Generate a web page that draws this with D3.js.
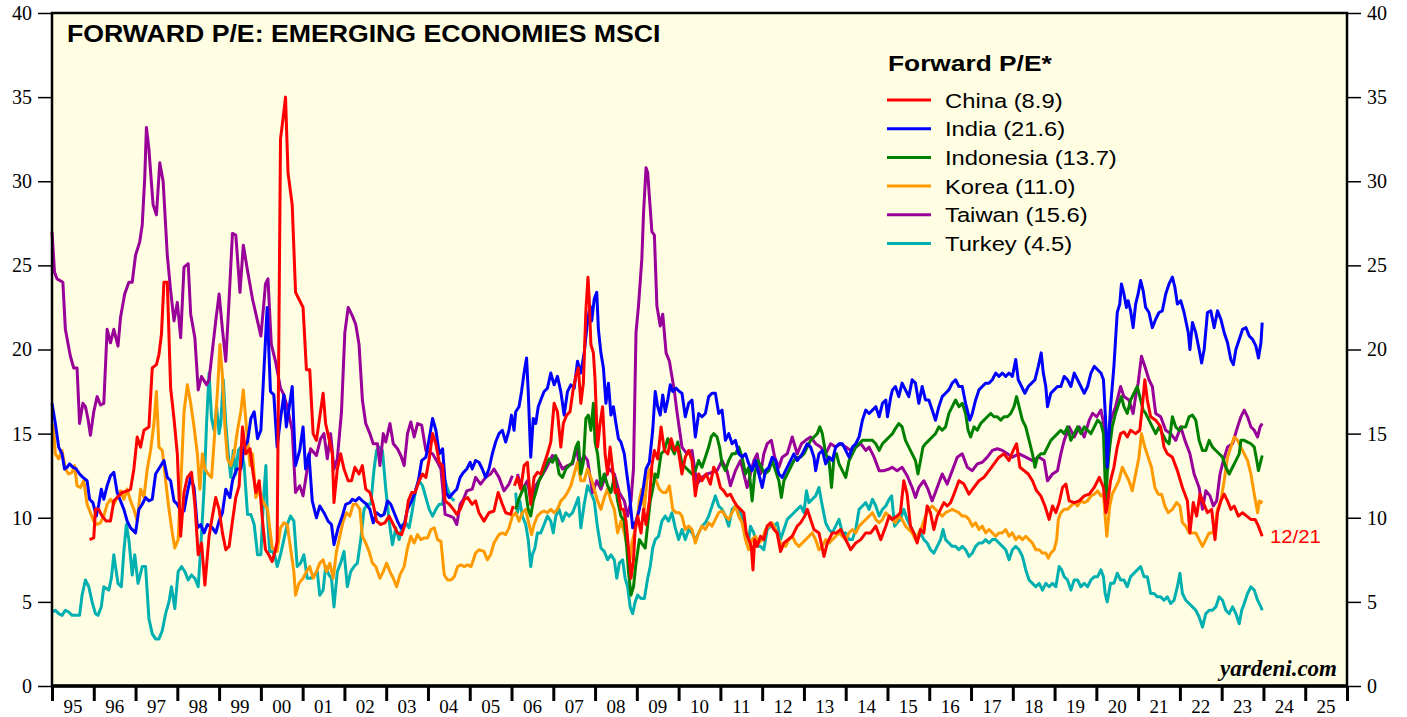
<!DOCTYPE html>
<html><head><meta charset="utf-8">
<script src="https://cdn.jsdelivr.net/npm/d3@7"></script>
<style>
html,body{margin:0;padding:0;background:#fff;}
svg{display:block;}
</style></head>
<body>
<svg id="chart" width="1407" height="717"></svg>
<script>
// ---------------- DATA (decimal year, forward P/E) ----------------
const yearTicks = d3.range(1995, 2027);
const yTicks = [0,5,10,15,20,25,30,35,40];
const seriesNames = ["China (8.9)","India (21.6)","Indonesia (13.7)","Korea (11.0)","Taiwan (15.6)","Turkey (4.5)"];

const china = [[1995.90,8.7],[1996.00,8.8],[1996.04,10.5],[1996.12,10.5],[1996.20,10.1],[1996.30,9.8],[1996.40,9.8],[1996.48,11.0],[1996.56,11.2],[1996.68,11.5],[1996.80,11.6],[1996.88,11.7],[1996.96,12.9],[1997.04,14.8],[1997.12,14.2],[1997.20,15.2],[1997.32,15.4],[1997.40,18.9],[1997.50,19.1],[1997.56,19.7],[1997.62,20.9],[1997.68,24.0],[1997.76,24.0],[1997.84,17.7],[1997.92,15.9],[1998.00,13.8],[1998.08,8.9],[1998.16,11.5],[1998.24,12.4],[1998.34,12.7],[1998.42,10.8],[1998.50,7.8],[1998.58,8.5],[1998.66,6.0],[1998.76,8.9],[1998.84,10.1],[1998.92,11.2],[1999.00,10.5],[1999.08,9.1],[1999.16,8.1],[1999.24,8.3],[1999.32,9.8],[1999.40,11.2],[1999.48,11.9],[1999.56,15.4],[1999.64,13.8],[1999.74,14.1],[1999.80,12.9],[1999.88,11.5],[1999.96,12.2],[2000.04,9.8],[2000.11,8.1],[2000.19,7.8],[2000.27,7.4],[2000.35,8.1],[2000.39,8.6],[2000.47,32.5],[2000.53,33.7],[2000.59,35.0],[2000.65,30.5],[2000.75,28.6],[2000.83,23.4],[2000.93,22.9],[2001.01,22.5],[2001.09,18.8],[2001.17,18.8],[2001.25,15.0],[2001.33,14.6],[2001.41,16.0],[2001.49,17.4],[2001.55,15.6],[2001.63,14.7],[2001.71,13.8],[2001.75,10.9],[2001.83,12.9],[2001.91,13.8],[2001.99,12.9],[2002.09,12.2],[2002.17,12.2],[2002.25,13.0],[2002.35,12.6],[2002.43,13.1],[2002.51,11.7],[2002.61,11.5],[2002.69,10.8],[2002.77,9.8],[2002.87,9.6],[2002.97,9.7],[2003.07,10.1],[2003.17,9.6],[2003.27,9.1],[2003.37,9.0],[2003.45,9.6],[2003.53,11.0],[2003.61,11.5],[2003.69,11.5],[2003.79,12.2],[2003.87,12.6],[2003.95,12.4],[2004.03,13.5],[2004.11,15.0],[2004.19,14.4],[2004.27,13.3],[2004.35,13.1],[2004.41,11.0],[2004.51,10.8],[2004.61,10.5],[2004.69,10.2],[2004.77,10.5],[2004.87,11.1],[2004.95,11.2],[2005.03,10.9],[2005.06,10.8],[2005.14,11.0],[2005.22,10.3],[2005.34,9.8],[2005.46,10.3],[2005.58,10.4],[2005.68,11.5],[2005.78,10.8],[2005.86,10.3],[2005.98,10.2],[2006.04,10.7],[2006.05,null],[2006.07,11.9],[2006.14,12.4],[2006.22,11.7],[2006.30,13.1],[2006.38,13.3],[2006.46,10.8],[2006.54,12.4],[2006.62,12.7],[2006.70,12.6],[2006.78,13.2],[2006.86,13.8],[2006.94,14.5],[2007.02,16.8],[2007.10,16.3],[2007.18,14.2],[2007.24,15.6],[2007.32,16.1],[2007.40,16.3],[2007.48,17.7],[2007.54,18.4],[2007.60,18.9],[2007.66,16.8],[2007.72,18.0],[2007.78,22.3],[2007.83,24.3],[2007.86,23.0],[2007.90,20.3],[2007.96,19.8],[2008.00,18.2],[2008.06,14.2],[2008.12,15.6],[2008.18,16.6],[2008.24,13.8],[2008.30,12.6],[2008.36,14.2],[2008.42,12.9],[2008.48,11.5],[2008.54,11.7],[2008.62,10.5],[2008.68,10.5],[2008.74,9.8],[2008.80,8.2],[2008.86,6.4],[2008.92,7.5],[2008.96,9.4],[2009.02,10.1],[2009.10,9.1],[2009.16,10.5],[2009.22,9.6],[2009.30,11.0],[2009.36,13.1],[2009.42,14.0],[2009.50,13.5],[2009.58,15.4],[2009.66,14.0],[2009.74,13.8],[2009.82,14.7],[2009.90,14.0],[2009.98,14.2],[2010.08,12.6],[2010.16,13.6],[2010.24,14.0],[2010.32,13.4],[2010.40,11.3],[2010.48,12.6],[2010.56,12.2],[2010.66,12.6],[2010.76,12.0],[2010.84,13.0],[2010.92,12.6],[2011.00,11.8],[2011.08,11.6],[2011.16,11.3],[2011.24,11.4],[2011.32,11.0],[2011.40,10.7],[2011.48,10.5],[2011.56,10.3],[2011.62,9.1],[2011.68,8.7],[2011.74,8.3],[2011.78,6.9],[2011.82,8.7],[2011.88,8.3],[2011.96,8.9],[2012.04,8.7],[2012.12,9.5],[2012.20,9.7],[2012.28,9.3],[2012.36,9.1],[2012.44,8.0],[2012.52,8.5],[2012.62,8.7],[2012.72,8.9],[2012.84,9.5],[2012.92,9.7],[2013.02,10.1],[2013.08,10.5],[2013.16,9.9],[2013.24,9.3],[2013.36,9.1],[2013.48,7.7],[2013.56,8.5],[2013.68,9.1],[2013.78,9.1],[2013.88,9.3],[2014.00,8.7],[2014.12,8.1],[2014.24,8.5],[2014.36,8.7],[2014.48,9.1],[2014.60,9.1],[2014.72,9.5],[2014.84,8.7],[2014.96,9.5],[2015.04,10.1],[2015.11,9.9],[2015.23,10.1],[2015.31,10.3],[2015.39,12.2],[2015.47,11.4],[2015.55,9.5],[2015.63,9.1],[2015.71,8.5],[2015.79,9.3],[2015.87,9.1],[2015.95,10.7],[2016.03,10.3],[2016.11,9.3],[2016.19,10.1],[2016.27,10.5],[2016.35,10.9],[2016.43,10.7],[2016.51,10.9],[2016.59,11.4],[2016.71,12.2],[2016.83,12.0],[2016.95,11.4],[2017.07,11.8],[2017.19,12.2],[2017.31,12.4],[2017.43,12.8],[2017.55,13.2],[2017.67,13.6],[2017.79,13.8],[2017.91,13.4],[2018.01,14.0],[2018.09,14.4],[2018.17,13.0],[2018.27,12.8],[2018.37,12.6],[2018.47,12.2],[2018.57,11.6],[2018.67,11.3],[2018.77,10.7],[2018.87,9.9],[2018.95,10.7],[2019.03,10.3],[2019.11,10.9],[2019.19,11.8],[2019.27,12.0],[2019.35,11.0],[2019.47,10.9],[2019.59,11.0],[2019.71,11.3],[2019.83,11.4],[2019.95,11.8],[2020.07,12.4],[2020.17,11.8],[2020.23,10.3],[2020.26,10.7],[2020.34,12.2],[2020.42,13.0],[2020.50,14.2],[2020.58,15.0],[2020.66,15.1],[2020.74,14.8],[2020.82,15.2],[2020.94,15.0],[2021.04,15.2],[2021.10,16.6],[2021.16,18.2],[2021.22,17.0],[2021.30,16.0],[2021.42,15.8],[2021.54,15.4],[2021.62,14.2],[2021.70,13.8],[2021.82,13.6],[2021.94,12.8],[2022.06,11.8],[2022.18,11.0],[2022.24,9.1],[2022.32,10.9],[2022.40,10.1],[2022.48,11.4],[2022.56,10.9],[2022.66,10.3],[2022.76,10.5],[2022.84,8.7],[2022.90,10.3],[2022.98,11.0],[2023.06,11.4],[2023.14,11.0],[2023.22,10.5],[2023.30,10.7],[2023.40,10.1],[2023.50,10.3],[2023.60,10.1],[2023.70,9.9],[2023.80,9.9],[2023.88,9.5],[2023.97,8.9]];

const india = [[1995.00,16.8],[1995.08,15.6],[1995.16,14.2],[1995.24,13.8],[1995.30,12.9],[1995.36,13.0],[1995.42,13.2],[1995.50,13.0],[1995.58,12.9],[1995.66,12.6],[1995.74,12.4],[1995.84,12.2],[1995.90,11.1],[1995.98,10.9],[1996.06,10.1],[1996.12,10.8],[1996.18,11.7],[1996.24,11.1],[1996.32,11.9],[1996.40,12.5],[1996.48,12.7],[1996.56,11.5],[1996.64,11.0],[1996.72,10.5],[1996.80,9.8],[1996.88,9.4],[1997.00,9.1],[1997.08,10.5],[1997.16,10.8],[1997.24,11.2],[1997.32,11.0],[1997.40,11.1],[1997.48,12.6],[1997.58,13.0],[1997.68,13.4],[1997.76,12.4],[1997.84,12.2],[1997.92,11.0],[1998.00,10.8],[1998.08,10.4],[1998.16,10.4],[1998.24,11.5],[1998.32,12.4],[1998.40,11.8],[1998.48,9.4],[1998.56,9.6],[1998.64,9.1],[1998.72,9.6],[1998.84,9.4],[1998.92,9.1],[1999.00,9.8],[1999.08,10.3],[1999.16,11.7],[1999.26,11.2],[1999.32,12.2],[1999.42,12.9],[1999.52,12.9],[1999.60,14.2],[1999.68,14.5],[1999.76,15.9],[1999.84,16.3],[1999.92,14.7],[2000.00,15.2],[2000.15,22.5],[2000.23,17.5],[2000.31,17.3],[2000.39,14.2],[2000.47,15.9],[2000.55,17.3],[2000.61,15.4],[2000.75,17.8],[2000.83,13.1],[2000.93,14.0],[2001.01,15.4],[2001.07,12.9],[2001.15,13.8],[2001.23,11.0],[2001.33,10.0],[2001.41,10.7],[2001.51,10.3],[2001.61,9.8],[2001.69,9.6],[2001.75,8.4],[2001.85,9.4],[2001.95,10.1],[2002.03,10.8],[2002.13,10.9],[2002.19,11.1],[2002.27,11.0],[2002.35,11.2],[2002.43,11.0],[2002.53,10.8],[2002.61,10.5],[2002.69,9.7],[2002.77,10.3],[2002.87,10.1],[2002.95,10.2],[2003.03,11.0],[2003.11,10.8],[2003.19,10.3],[2003.27,9.8],[2003.35,9.4],[2003.43,9.6],[2003.51,10.5],[2003.61,11.0],[2003.69,11.5],[2003.77,12.2],[2003.85,13.4],[2003.95,13.6],[2004.03,14.7],[2004.11,15.9],[2004.19,15.2],[2004.27,13.8],[2004.35,14.1],[2004.43,11.5],[2004.51,11.2],[2004.61,11.5],[2004.69,11.7],[2004.77,12.4],[2004.85,12.7],[2004.93,12.9],[2005.01,13.3],[2005.06,12.9],[2005.14,13.4],[2005.22,13.3],[2005.30,12.9],[2005.38,12.4],[2005.46,12.9],[2005.54,13.8],[2005.62,14.5],[2005.70,15.0],[2005.78,15.2],[2005.86,14.5],[2005.94,15.2],[2006.00,16.1],[2006.06,15.2],[2006.10,16.3],[2006.18,16.6],[2006.24,17.5],[2006.30,18.6],[2006.36,19.5],[2006.40,17.5],[2006.46,13.6],[2006.52,15.9],[2006.58,15.6],[2006.64,16.6],[2006.70,17.0],[2006.78,17.5],[2006.86,17.7],[2006.94,18.6],[2007.02,17.9],[2007.10,18.4],[2007.18,17.5],[2007.26,16.1],[2007.34,17.5],[2007.42,17.9],[2007.50,17.7],[2007.58,19.3],[2007.66,18.6],[2007.74,19.8],[2007.82,21.7],[2007.88,22.6],[2007.92,21.7],[2007.98,23.0],[2008.04,23.4],[2008.08,21.2],[2008.14,19.8],[2008.20,18.9],[2008.26,16.8],[2008.32,18.0],[2008.38,16.1],[2008.44,16.6],[2008.50,15.6],[2008.56,14.7],[2008.62,14.5],[2008.70,13.8],[2008.76,12.6],[2008.82,11.5],[2008.90,9.4],[2008.98,9.8],[2009.06,10.5],[2009.14,11.5],[2009.22,12.9],[2009.30,13.3],[2009.38,15.2],[2009.44,17.5],[2009.50,16.6],[2009.56,16.1],[2009.62,17.3],[2009.68,16.3],[2009.74,17.0],[2009.80,17.9],[2009.86,17.5],[2009.94,17.7],[2010.02,17.5],[2010.08,17.4],[2010.16,16.0],[2010.24,16.8],[2010.32,17.0],[2010.40,14.8],[2010.48,16.2],[2010.56,16.0],[2010.64,16.2],[2010.72,17.2],[2010.80,17.4],[2010.88,17.4],[2010.96,16.2],[2011.04,16.4],[2011.12,14.6],[2011.20,15.0],[2011.28,14.4],[2011.36,14.6],[2011.44,13.8],[2011.52,13.6],[2011.60,13.8],[2011.68,13.2],[2011.76,12.8],[2011.84,13.4],[2011.92,12.6],[2012.00,11.8],[2012.08,12.8],[2012.16,13.0],[2012.24,13.6],[2012.32,13.4],[2012.40,12.6],[2012.48,12.4],[2012.56,12.8],[2012.64,13.2],[2012.76,13.8],[2012.84,13.4],[2012.96,13.8],[2013.08,14.4],[2013.16,14.2],[2013.24,13.6],[2013.28,12.8],[2013.36,13.8],[2013.44,14.0],[2013.52,13.2],[2013.60,13.6],[2013.68,13.4],[2013.76,14.2],[2013.84,14.4],[2013.92,14.4],[2014.00,14.0],[2014.08,13.6],[2014.16,14.2],[2014.24,14.4],[2014.32,14.8],[2014.40,15.8],[2014.48,16.4],[2014.56,16.2],[2014.64,16.4],[2014.72,16.6],[2014.80,16.0],[2014.88,16.8],[2014.96,17.0],[2015.00,16.0],[2015.08,17.2],[2015.12,17.6],[2015.19,17.8],[2015.27,17.2],[2015.35,18.0],[2015.43,17.6],[2015.51,17.2],[2015.59,18.2],[2015.67,18.0],[2015.75,16.8],[2015.83,17.8],[2015.91,17.0],[2015.99,17.0],[2016.07,16.4],[2016.15,15.8],[2016.23,16.6],[2016.31,17.2],[2016.39,17.4],[2016.47,17.6],[2016.55,18.0],[2016.63,18.2],[2016.71,17.8],[2016.79,17.8],[2016.87,16.8],[2016.97,15.8],[2017.03,16.2],[2017.11,17.0],[2017.19,17.6],[2017.27,17.8],[2017.35,18.0],[2017.43,18.0],[2017.51,18.2],[2017.59,18.6],[2017.67,18.4],[2017.75,18.6],[2017.83,18.4],[2017.91,18.6],[2017.99,18.4],[2018.07,19.4],[2018.13,18.2],[2018.21,17.8],[2018.29,17.4],[2018.37,17.8],[2018.45,18.0],[2018.53,18.2],[2018.61,19.0],[2018.68,19.8],[2018.73,18.6],[2018.79,17.8],[2018.83,16.6],[2018.91,17.4],[2018.99,17.6],[2019.07,17.8],[2019.15,17.8],[2019.23,18.4],[2019.31,18.2],[2019.39,17.8],[2019.47,18.6],[2019.55,18.2],[2019.63,17.8],[2019.71,17.4],[2019.79,17.8],[2019.87,18.6],[2019.95,19.0],[2020.03,18.8],[2020.11,18.6],[2020.17,18.2],[2020.23,15.4],[2020.26,13.0],[2020.34,16.6],[2020.38,17.8],[2020.42,19.0],[2020.46,20.6],[2020.50,22.2],[2020.56,22.7],[2020.60,23.9],[2020.66,23.3],[2020.72,22.5],[2020.76,22.9],[2020.82,22.3],[2020.88,21.3],[2020.94,22.7],[2021.00,23.3],[2021.06,24.1],[2021.12,23.5],[2021.18,22.5],[2021.26,22.2],[2021.34,21.3],[2021.42,21.8],[2021.50,22.2],[2021.58,22.3],[2021.66,23.3],[2021.74,23.9],[2021.82,24.3],[2021.88,23.7],[2021.94,22.7],[2022.02,22.9],[2022.10,22.2],[2022.20,21.0],[2022.24,20.0],[2022.30,21.6],[2022.38,21.0],[2022.46,20.0],[2022.52,19.2],[2022.58,20.0],[2022.66,22.2],[2022.74,22.3],[2022.82,21.3],[2022.90,22.3],[2022.98,21.8],[2023.06,21.0],[2023.14,20.4],[2023.22,19.4],[2023.28,19.1],[2023.34,20.0],[2023.42,20.6],[2023.50,21.2],[2023.58,21.3],[2023.66,20.8],[2023.74,20.6],[2023.82,20.2],[2023.88,19.5],[2023.94,20.4],[2023.97,21.6]];

const indonesia = [[2006.10,10.5],[2006.16,11.0],[2006.24,11.5],[2006.32,11.9],[2006.40,10.5],[2006.46,10.1],[2006.52,11.0],[2006.58,11.5],[2006.66,12.2],[2006.74,12.6],[2006.82,13.1],[2006.90,13.5],[2006.98,13.3],[2007.06,13.7],[2007.14,12.6],[2007.22,12.4],[2007.30,12.9],[2007.38,13.1],[2007.46,13.3],[2007.54,14.2],[2007.60,14.5],[2007.66,12.6],[2007.72,13.3],[2007.78,15.9],[2007.84,16.1],[2007.90,15.2],[2007.96,16.8],[2008.00,14.5],[2008.06,13.8],[2008.14,11.9],[2008.22,12.6],[2008.30,11.9],[2008.38,11.5],[2008.46,12.4],[2008.54,11.0],[2008.62,10.1],[2008.70,9.8],[2008.76,8.2],[2008.80,6.8],[2008.86,5.4],[2008.92,5.9],[2008.98,7.3],[2009.06,8.7],[2009.14,8.4],[2009.20,8.2],[2009.26,9.6],[2009.32,11.0],[2009.38,11.7],[2009.44,12.6],[2009.50,12.4],[2009.58,13.8],[2009.66,14.0],[2009.74,14.7],[2009.82,14.2],[2009.90,13.8],[2009.98,14.5],[2010.08,13.2],[2010.16,13.0],[2010.24,12.8],[2010.32,12.6],[2010.40,12.8],[2010.48,13.4],[2010.56,13.0],[2010.64,13.6],[2010.72,14.2],[2010.78,14.8],[2010.84,15.0],[2010.92,14.8],[2010.98,14.2],[2011.04,13.2],[2011.12,12.8],[2011.20,13.4],[2011.28,13.8],[2011.36,13.8],[2011.44,14.2],[2011.52,13.6],[2011.60,12.6],[2011.68,13.0],[2011.76,11.0],[2011.82,12.6],[2011.90,13.4],[2011.98,13.0],[2012.06,12.6],[2012.16,12.8],[2012.24,13.4],[2012.32,12.8],[2012.40,12.2],[2012.46,11.2],[2012.52,12.2],[2012.60,12.6],[2012.68,13.0],[2012.76,13.4],[2012.84,13.6],[2012.92,13.6],[2013.00,13.8],[2013.08,14.2],[2013.16,14.6],[2013.24,14.8],[2013.32,15.0],[2013.38,15.4],[2013.44,15.0],[2013.52,13.8],[2013.60,13.4],[2013.66,11.8],[2013.72,13.6],[2013.78,13.8],[2013.84,13.2],[2013.92,12.8],[2014.00,12.4],[2014.08,13.4],[2014.16,13.8],[2014.24,14.2],[2014.32,14.4],[2014.40,14.6],[2014.48,14.6],[2014.56,14.6],[2014.64,14.6],[2014.72,14.4],[2014.80,14.0],[2014.88,14.4],[2014.96,14.6],[2015.04,14.8],[2015.12,15.0],[2015.19,15.3],[2015.27,15.6],[2015.35,15.4],[2015.43,14.6],[2015.51,14.2],[2015.59,13.8],[2015.67,13.4],[2015.73,12.6],[2015.79,13.4],[2015.85,14.2],[2015.91,14.4],[2015.99,14.6],[2016.07,14.8],[2016.15,15.0],[2016.23,15.4],[2016.31,15.2],[2016.39,15.4],[2016.47,16.2],[2016.55,16.6],[2016.63,17.0],[2016.71,16.6],[2016.79,16.8],[2016.87,16.2],[2016.93,15.2],[2016.99,14.8],[2017.07,15.4],[2017.15,15.2],[2017.23,15.6],[2017.31,15.8],[2017.39,16.0],[2017.47,16.2],[2017.55,16.0],[2017.63,16.0],[2017.71,15.8],[2017.79,16.0],[2017.87,16.0],[2017.95,16.2],[2018.03,16.6],[2018.09,17.2],[2018.15,16.6],[2018.23,15.8],[2018.31,15.4],[2018.39,14.6],[2018.47,13.8],[2018.53,13.0],[2018.59,13.6],[2018.67,13.8],[2018.75,13.8],[2018.83,14.2],[2018.91,14.6],[2018.99,14.8],[2019.07,15.0],[2019.15,15.2],[2019.23,15.0],[2019.31,15.4],[2019.39,14.6],[2019.47,15.0],[2019.55,15.4],[2019.63,15.0],[2019.71,15.4],[2019.79,15.2],[2019.87,15.0],[2019.95,15.4],[2020.03,15.8],[2020.11,15.6],[2020.17,15.0],[2020.23,10.8],[2020.26,12.6],[2020.32,14.2],[2020.38,15.4],[2020.46,16.2],[2020.54,16.8],[2020.60,17.2],[2020.66,16.6],[2020.74,16.2],[2020.82,17.0],[2020.90,17.4],[2020.98,17.8],[2021.06,17.0],[2021.12,16.4],[2021.18,16.2],[2021.26,15.8],[2021.34,15.4],[2021.42,15.0],[2021.50,15.4],[2021.58,15.0],[2021.66,14.6],[2021.74,14.4],[2021.82,16.0],[2021.90,15.4],[2021.98,15.2],[2022.06,15.4],[2022.14,15.4],[2022.22,16.0],[2022.30,16.1],[2022.38,15.8],[2022.46,14.6],[2022.54,14.0],[2022.62,14.0],[2022.70,14.6],[2022.78,14.2],[2022.86,14.0],[2022.94,13.8],[2023.02,13.6],[2023.10,13.0],[2023.18,12.6],[2023.26,13.0],[2023.34,13.4],[2023.42,13.8],[2023.46,14.6],[2023.54,14.6],[2023.62,14.5],[2023.70,14.4],[2023.78,14.2],[2023.84,13.4],[2023.88,12.8],[2023.94,13.4],[2023.97,13.7]];

const korea = [[1995.00,15.6],[1995.04,15.2],[1995.08,13.8],[1995.16,13.5],[1995.24,14.0],[1995.32,12.9],[1995.40,12.6],[1995.48,12.7],[1995.54,13.1],[1995.60,11.9],[1995.68,11.8],[1995.76,12.2],[1995.84,10.8],[1995.92,10.3],[1996.00,9.8],[1996.08,9.6],[1996.16,9.7],[1996.24,10.1],[1996.32,10.8],[1996.40,11.1],[1996.48,10.8],[1996.56,11.2],[1996.64,11.6],[1996.72,11.1],[1996.80,11.7],[1996.88,11.0],[1996.96,10.5],[1997.04,9.8],[1997.12,11.7],[1997.20,11.2],[1997.28,12.9],[1997.36,14.0],[1997.44,15.6],[1997.50,17.5],[1997.56,14.2],[1997.64,14.0],[1997.72,12.2],[1997.80,10.5],[1997.88,9.1],[1997.94,8.2],[1998.02,8.7],[1998.10,12.9],[1998.16,16.3],[1998.24,17.9],[1998.32,16.8],[1998.40,15.4],[1998.48,13.8],[1998.54,11.7],[1998.60,13.8],[1998.66,12.9],[1998.74,12.6],[1998.82,12.4],[1998.90,15.2],[1998.97,17.9],[1999.02,20.3],[1999.08,18.4],[1999.14,15.4],[1999.20,13.5],[1999.28,13.1],[1999.36,13.8],[1999.44,15.2],[1999.52,16.3],[1999.58,17.6],[1999.66,15.2],[1999.74,13.1],[1999.80,13.8],[1999.88,11.2],[1999.96,11.7],[2000.04,11.0],[2000.16,10.5],[2000.27,8.2],[2000.39,8.0],[2000.47,9.4],[2000.55,9.7],[2000.63,9.6],[2000.71,8.2],[2000.79,6.8],[2000.83,5.4],[2000.91,6.1],[2001.01,6.4],[2001.09,6.8],[2001.17,7.1],[2001.25,6.4],[2001.33,6.8],[2001.41,7.3],[2001.49,7.5],[2001.57,6.8],[2001.65,7.3],[2001.73,6.4],[2001.81,8.0],[2001.89,8.9],[2001.97,9.8],[2002.05,10.3],[2002.13,10.1],[2002.21,10.8],[2002.29,10.8],[2002.37,10.5],[2002.43,8.9],[2002.51,8.5],[2002.59,8.0],[2002.67,7.3],[2002.75,7.1],[2002.85,6.4],[2002.93,6.8],[2003.01,7.3],[2003.09,6.8],[2003.17,6.4],[2003.25,5.9],[2003.33,6.6],[2003.43,7.1],[2003.51,8.2],[2003.59,8.9],[2003.67,8.5],[2003.75,9.0],[2003.83,8.7],[2003.91,8.8],[2003.99,8.8],[2004.07,9.3],[2004.15,9.4],[2004.23,8.7],[2004.31,8.6],[2004.39,6.6],[2004.47,6.3],[2004.55,6.3],[2004.63,6.5],[2004.71,7.1],[2004.79,7.2],[2004.87,7.1],[2004.95,7.2],[2005.03,7.1],[2005.06,7.3],[2005.14,7.9],[2005.22,8.1],[2005.34,8.0],[2005.42,7.5],[2005.50,7.8],[2005.58,8.5],[2005.70,9.0],[2005.78,9.1],[2005.86,9.0],[2005.94,9.4],[2006.02,10.1],[2006.10,10.3],[2006.18,9.8],[2006.26,10.3],[2006.34,10.5],[2006.42,9.6],[2006.48,9.0],[2006.54,9.6],[2006.62,10.1],[2006.70,10.3],[2006.78,10.4],[2006.86,10.3],[2006.94,10.5],[2007.02,10.3],[2007.10,10.5],[2007.18,11.0],[2007.26,11.2],[2007.34,11.5],[2007.42,11.9],[2007.50,12.6],[2007.58,13.3],[2007.66,12.2],[2007.74,12.2],[2007.82,12.9],[2007.90,12.4],[2007.98,11.7],[2008.06,11.0],[2008.14,10.5],[2008.22,11.2],[2008.30,11.7],[2008.38,11.0],[2008.46,10.5],[2008.54,9.1],[2008.62,9.8],[2008.70,9.1],[2008.78,8.2],[2008.84,7.5],[2008.88,8.5],[2008.94,9.1],[2009.00,9.6],[2009.06,11.0],[2009.12,11.7],[2009.18,10.5],[2009.24,12.2],[2009.30,12.9],[2009.38,12.6],[2009.46,12.2],[2009.54,11.7],[2009.62,11.5],[2009.70,11.5],[2009.78,11.9],[2009.86,10.5],[2009.94,10.3],[2010.02,10.3],[2010.08,10.1],[2010.16,9.3],[2010.24,9.5],[2010.32,9.3],[2010.40,8.5],[2010.48,9.1],[2010.56,9.5],[2010.64,9.3],[2010.72,9.7],[2010.80,9.5],[2010.88,9.9],[2010.96,10.3],[2011.04,10.4],[2011.12,10.1],[2011.20,9.9],[2011.28,10.3],[2011.36,10.7],[2011.44,10.1],[2011.52,9.7],[2011.60,8.7],[2011.68,8.1],[2011.76,8.7],[2011.84,8.9],[2011.92,8.5],[2012.00,8.7],[2012.08,9.3],[2012.16,9.5],[2012.24,9.7],[2012.32,9.3],[2012.40,8.7],[2012.48,8.3],[2012.56,8.3],[2012.64,8.7],[2012.72,8.9],[2012.80,8.5],[2012.88,8.3],[2012.96,8.5],[2013.04,8.7],[2013.12,8.9],[2013.20,9.1],[2013.28,8.7],[2013.36,8.1],[2013.44,8.3],[2013.52,8.7],[2013.60,8.5],[2013.68,8.7],[2013.76,8.9],[2013.84,9.1],[2013.92,8.9],[2014.00,8.7],[2014.08,9.1],[2014.16,9.3],[2014.24,9.1],[2014.32,9.5],[2014.40,9.7],[2014.48,9.9],[2014.56,10.1],[2014.64,10.3],[2014.72,9.9],[2014.80,9.7],[2014.88,9.9],[2014.96,10.3],[2015.04,10.1],[2015.12,9.9],[2015.19,9.7],[2015.27,10.1],[2015.35,9.9],[2015.43,9.5],[2015.51,9.3],[2015.59,9.1],[2015.67,8.7],[2015.75,9.1],[2015.83,9.5],[2015.91,10.1],[2015.99,10.5],[2016.07,10.7],[2016.15,10.5],[2016.23,10.3],[2016.31,10.1],[2016.39,10.3],[2016.47,10.4],[2016.55,10.5],[2016.63,10.4],[2016.71,10.3],[2016.79,10.1],[2016.87,10.1],[2016.95,9.9],[2017.03,9.5],[2017.11,9.7],[2017.19,9.3],[2017.27,9.5],[2017.35,9.1],[2017.43,9.3],[2017.51,9.1],[2017.59,8.9],[2017.67,9.1],[2017.75,9.1],[2017.83,9.3],[2017.91,8.9],[2017.99,9.1],[2018.07,8.7],[2018.15,8.9],[2018.23,8.7],[2018.31,8.9],[2018.39,8.7],[2018.47,8.5],[2018.55,8.1],[2018.63,8.1],[2018.71,7.9],[2018.79,7.9],[2018.85,7.6],[2018.91,7.9],[2018.99,8.1],[2019.05,8.7],[2019.09,9.9],[2019.15,10.3],[2019.23,10.5],[2019.31,10.5],[2019.39,10.7],[2019.47,10.9],[2019.55,10.7],[2019.63,11.0],[2019.71,10.9],[2019.79,11.0],[2019.87,11.3],[2019.95,11.4],[2020.03,11.6],[2020.11,11.3],[2020.17,11.4],[2020.21,10.1],[2020.25,8.9],[2020.32,10.7],[2020.38,11.4],[2020.46,11.8],[2020.54,12.2],[2020.62,13.0],[2020.70,12.6],[2020.78,12.2],[2020.86,11.6],[2020.94,12.6],[2021.02,13.6],[2021.08,15.0],[2021.16,14.2],[2021.24,13.6],[2021.32,13.0],[2021.40,11.8],[2021.48,11.4],[2021.56,11.4],[2021.64,10.7],[2021.72,10.3],[2021.82,10.5],[2021.92,10.9],[2022.00,10.7],[2022.06,9.7],[2022.14,9.5],[2022.22,9.1],[2022.30,9.1],[2022.38,9.1],[2022.46,8.7],[2022.54,8.3],[2022.62,8.7],[2022.70,9.1],[2022.78,9.1],[2022.84,9.5],[2022.90,10.5],[2022.98,11.0],[2023.06,12.2],[2023.14,13.6],[2023.22,14.2],[2023.30,14.8],[2023.38,14.6],[2023.46,14.2],[2023.54,13.8],[2023.62,13.4],[2023.70,12.6],[2023.78,11.4],[2023.86,10.3],[2023.90,11.0],[2023.94,10.9],[2023.97,11.0]];

const taiwan = [[1995.00,27.0],[1995.06,24.6],[1995.12,24.2],[1995.26,24.0],[1995.32,21.2],[1995.44,19.6],[1995.52,18.9],[1995.60,18.9],[1995.66,15.6],[1995.74,16.8],[1995.80,16.6],[1995.86,15.9],[1995.92,14.9],[1996.00,16.3],[1996.08,17.2],[1996.16,16.7],[1996.24,16.8],[1996.32,21.2],[1996.40,20.4],[1996.48,21.2],[1996.58,20.2],[1996.64,21.9],[1996.74,23.3],[1996.84,24.0],[1996.92,24.0],[1997.00,25.6],[1997.10,26.4],[1997.16,27.4],[1997.22,30.2],[1997.26,33.2],[1997.32,31.9],[1997.42,28.6],[1997.50,28.0],[1997.58,31.1],[1997.66,30.0],[1997.76,25.6],[1997.84,23.5],[1997.92,21.7],[1998.00,22.8],[1998.08,20.7],[1998.16,24.9],[1998.26,25.1],[1998.32,22.1],[1998.42,20.7],[1998.50,17.6],[1998.58,18.4],[1998.70,17.9],[1998.76,18.2],[1998.92,21.7],[1999.00,23.3],[1999.08,21.2],[1999.16,19.3],[1999.24,23.0],[1999.32,26.9],[1999.40,26.8],[1999.50,23.4],[1999.58,26.2],[1999.68,24.7],[1999.80,23.0],[2000.00,20.8],[2000.08,23.0],[2000.11,23.9],[2000.17,24.2],[2000.25,20.3],[2000.35,19.3],[2000.47,17.7],[2000.55,17.3],[2000.63,16.6],[2000.75,15.2],[2000.83,11.5],[2000.93,11.9],[2001.01,11.3],[2001.11,12.9],[2001.19,14.1],[2001.33,13.7],[2001.43,14.7],[2001.51,15.0],[2001.59,13.5],[2001.67,15.0],[2001.75,12.9],[2001.83,13.5],[2001.93,16.3],[2002.01,21.0],[2002.09,22.5],[2002.19,22.0],[2002.27,21.5],[2002.35,20.3],[2002.43,17.0],[2002.51,15.6],[2002.61,15.0],[2002.69,14.4],[2002.79,14.4],[2002.85,13.1],[2002.93,15.0],[2002.99,14.5],[2003.09,15.6],[2003.17,14.4],[2003.27,14.1],[2003.35,13.7],[2003.43,13.1],[2003.51,15.0],[2003.59,15.7],[2003.67,14.8],[2003.75,15.6],[2003.85,15.5],[2003.95,14.0],[2004.03,13.9],[2004.11,13.8],[2004.23,13.3],[2004.31,12.9],[2004.41,10.2],[2004.53,10.1],[2004.61,10.0],[2004.69,9.6],[2004.77,10.8],[2004.85,11.1],[2004.93,11.6],[2005.06,11.7],[2005.14,12.4],[2005.26,12.0],[2005.38,12.4],[2005.50,12.6],[2005.58,12.9],[2005.70,12.4],[2005.82,11.6],[2005.94,12.0],[2006.02,12.5],[2006.08,null],[2006.14,12.6],[2006.26,11.7],[2006.38,12.2],[2006.48,10.8],[2006.58,11.9],[2006.70,12.4],[2006.82,12.9],[2006.98,13.7],[2007.10,13.5],[2007.22,12.9],[2007.34,13.1],[2007.46,13.2],[2007.56,14.2],[2007.62,13.1],[2007.74,13.7],[2007.82,13.4],[2007.94,11.5],[2008.04,12.2],[2008.14,11.7],[2008.24,12.4],[2008.34,12.9],[2008.46,12.6],[2008.58,11.5],[2008.70,11.0],[2008.78,10.1],[2008.86,11.0],[2008.92,12.9],[2008.98,21.0],[2009.04,22.6],[2009.12,25.4],[2009.16,28.1],[2009.22,30.8],[2009.26,30.5],[2009.30,29.1],[2009.36,27.0],[2009.42,26.8],[2009.48,22.6],[2009.56,21.4],[2009.62,22.1],[2009.70,19.8],[2009.78,19.3],[2009.84,18.4],[2009.90,17.5],[2009.96,16.3],[2010.08,14.2],[2010.20,13.8],[2010.32,14.0],[2010.44,12.0],[2010.56,12.4],[2010.68,12.6],[2010.80,12.7],[2010.92,12.8],[2011.04,13.4],[2011.16,12.8],[2011.24,11.9],[2011.36,12.8],[2011.48,13.4],[2011.56,12.6],[2011.64,11.8],[2011.72,12.6],[2011.80,13.4],[2011.88,13.8],[2011.96,12.6],[2012.04,13.8],[2012.12,14.4],[2012.22,14.6],[2012.30,13.6],[2012.40,13.0],[2012.48,13.6],[2012.60,13.8],[2012.72,14.8],[2012.84,13.8],[2012.94,14.4],[2013.04,14.6],[2013.16,14.8],[2013.28,14.4],[2013.40,14.2],[2013.52,13.8],[2013.64,14.4],[2013.76,14.2],[2013.88,14.4],[2014.00,14.2],[2014.12,14.0],[2014.24,14.2],[2014.36,14.4],[2014.48,14.0],[2014.56,14.2],[2014.68,13.6],[2014.80,12.8],[2014.92,12.8],[2015.04,12.9],[2015.11,13.0],[2015.23,12.8],[2015.35,13.0],[2015.47,12.5],[2015.59,11.8],[2015.67,11.2],[2015.75,11.8],[2015.87,12.2],[2015.97,11.7],[2016.07,11.0],[2016.19,11.8],[2016.31,12.6],[2016.43,12.0],[2016.55,12.8],[2016.67,13.6],[2016.79,13.8],[2016.91,13.0],[2017.03,12.8],[2017.15,13.2],[2017.27,13.3],[2017.39,13.6],[2017.51,14.0],[2017.63,14.1],[2017.75,14.0],[2017.87,13.8],[2017.99,13.6],[2018.15,13.8],[2018.31,13.6],[2018.47,13.4],[2018.63,13.6],[2018.75,13.4],[2018.83,12.2],[2018.95,12.6],[2019.07,12.8],[2019.15,13.8],[2019.23,14.6],[2019.35,15.4],[2019.47,14.8],[2019.59,15.4],[2019.71,14.8],[2019.83,15.8],[2019.91,16.2],[2020.01,16.0],[2020.11,16.4],[2020.19,15.4],[2020.22,12.5],[2020.34,15.8],[2020.46,16.6],[2020.58,17.8],[2020.66,17.2],[2020.78,17.0],[2020.88,16.2],[2020.94,17.2],[2021.00,18.0],[2021.08,19.6],[2021.16,19.0],[2021.26,18.2],[2021.34,17.8],[2021.42,16.2],[2021.54,16.0],[2021.66,15.2],[2021.78,15.0],[2021.90,14.6],[2022.02,15.4],[2022.12,14.6],[2022.24,13.8],[2022.34,12.6],[2022.46,11.8],[2022.54,10.5],[2022.62,11.6],[2022.72,11.3],[2022.80,10.7],[2022.88,11.0],[2022.96,12.6],[2023.04,13.4],[2023.14,14.2],[2023.26,14.4],[2023.38,15.4],[2023.46,16.0],[2023.54,16.4],[2023.62,16.0],[2023.70,15.4],[2023.78,15.2],[2023.86,14.8],[2023.92,15.4],[2023.97,15.6]];

const turkey = [[1995.00,4.4],[1995.08,4.5],[1995.16,4.3],[1995.24,4.2],[1995.32,4.5],[1995.40,4.4],[1995.48,4.2],[1995.56,4.2],[1995.66,4.2],[1995.72,5.4],[1995.80,6.3],[1995.88,5.9],[1995.96,5.0],[1996.04,4.3],[1996.10,4.2],[1996.18,4.7],[1996.24,5.9],[1996.30,5.8],[1996.36,5.7],[1996.42,6.4],[1996.48,7.8],[1996.52,7.1],[1996.58,6.1],[1996.66,5.9],[1996.72,8.0],[1996.78,9.6],[1996.84,8.7],[1996.92,6.6],[1996.98,7.8],[1997.06,6.1],[1997.16,7.1],[1997.24,7.1],[1997.32,4.0],[1997.40,3.1],[1997.48,2.8],[1997.56,2.8],[1997.64,3.3],[1997.72,4.3],[1997.80,5.0],[1997.86,5.9],[1997.94,4.6],[1998.02,6.8],[1998.10,7.1],[1998.18,6.8],[1998.26,6.3],[1998.34,6.6],[1998.42,6.4],[1998.50,5.9],[1998.56,8.2],[1998.64,11.7],[1998.70,15.6],[1998.76,18.6],[1998.82,15.9],[1998.88,15.2],[1998.94,16.6],[1999.00,15.0],[1999.04,15.6],[1999.10,18.2],[1999.16,15.6],[1999.22,13.8],[1999.28,12.4],[1999.34,14.0],[1999.40,12.6],[1999.46,14.0],[1999.52,14.2],[1999.60,13.1],[1999.68,10.2],[1999.76,10.2],[1999.84,9.6],[1999.92,7.8],[2000.00,7.8],[2000.06,11.0],[2000.12,13.1],[2000.15,10.5],[2000.21,8.0],[2000.27,8.0],[2000.33,7.8],[2000.39,7.1],[2000.47,7.8],[2000.55,8.7],[2000.63,9.6],[2000.71,10.1],[2000.79,9.8],[2000.87,7.1],[2000.95,7.3],[2001.03,7.8],[2001.11,6.4],[2001.19,6.4],[2001.27,6.6],[2001.35,6.8],[2001.41,5.4],[2001.49,5.7],[2001.55,7.1],[2001.63,6.6],[2001.69,6.4],[2001.75,4.7],[2001.83,6.8],[2001.91,7.3],[2001.99,8.0],[2002.07,5.9],[2002.15,6.8],[2002.23,7.1],[2002.31,7.3],[2002.39,8.7],[2002.47,10.5],[2002.55,10.8],[2002.63,10.8],[2002.71,12.9],[2002.77,14.0],[2002.83,14.2],[2002.91,14.0],[2002.99,11.7],[2003.07,9.8],[2003.15,8.4],[2003.23,9.4],[2003.31,8.7],[2003.39,9.6],[2003.47,9.7],[2003.55,9.4],[2003.63,10.5],[2003.71,11.7],[2003.79,12.2],[2003.87,11.9],[2003.95,11.2],[2004.03,10.5],[2004.11,10.1],[2004.19,10.5],[2004.27,10.8],[2004.35,10.8],[2004.41,12.2],[2004.47,11.7],[2004.55,11.2],[2004.63,11.0],[2004.70,null],[2006.10,11.5],[2006.14,10.3],[2006.20,11.0],[2006.26,10.1],[2006.34,9.6],[2006.40,8.7],[2006.46,7.1],[2006.50,7.8],[2006.56,8.2],[2006.62,9.1],[2006.70,9.1],[2006.78,9.6],[2006.86,10.1],[2006.94,9.8],[2007.00,9.1],[2007.06,10.1],[2007.14,10.5],[2007.22,9.8],[2007.30,10.3],[2007.38,10.1],[2007.46,10.3],[2007.54,10.8],[2007.60,11.2],[2007.66,9.4],[2007.74,10.8],[2007.82,11.9],[2007.90,11.5],[2007.98,11.0],[2008.06,9.4],[2008.14,8.2],[2008.22,8.0],[2008.30,7.5],[2008.38,7.8],[2008.46,7.5],[2008.52,6.4],[2008.58,7.3],[2008.66,7.5],[2008.72,6.4],[2008.78,5.9],[2008.84,4.7],[2008.90,4.3],[2008.96,5.0],[2009.02,5.4],[2009.10,5.2],[2009.18,5.2],[2009.26,6.4],[2009.32,7.1],[2009.38,8.2],[2009.44,8.7],[2009.52,8.9],[2009.60,9.8],[2009.68,10.1],[2009.76,9.8],[2009.84,10.3],[2009.92,9.4],[2010.00,8.7],[2010.08,9.3],[2010.16,8.7],[2010.24,9.3],[2010.32,9.1],[2010.40,8.7],[2010.48,9.1],[2010.56,9.5],[2010.64,9.7],[2010.72,10.1],[2010.80,10.7],[2010.88,11.3],[2010.96,10.7],[2011.04,10.5],[2011.12,10.1],[2011.20,9.5],[2011.28,10.5],[2011.36,10.7],[2011.44,10.5],[2011.52,10.1],[2011.60,9.1],[2011.68,8.7],[2011.72,9.5],[2011.80,9.1],[2011.88,8.3],[2011.96,8.3],[2012.04,8.1],[2012.12,9.3],[2012.20,9.5],[2012.28,9.5],[2012.36,9.7],[2012.44,8.7],[2012.52,9.3],[2012.60,9.9],[2012.68,10.1],[2012.76,10.3],[2012.84,10.5],[2012.92,10.7],[2013.00,10.3],[2013.06,11.6],[2013.12,10.9],[2013.20,11.1],[2013.28,11.3],[2013.36,11.8],[2013.44,10.7],[2013.52,9.7],[2013.60,9.3],[2013.68,9.1],[2013.76,9.5],[2013.84,9.9],[2013.92,9.1],[2014.00,9.1],[2014.08,8.7],[2014.16,8.7],[2014.24,9.3],[2014.32,10.5],[2014.40,10.7],[2014.48,10.9],[2014.56,10.5],[2014.64,11.1],[2014.72,10.7],[2014.80,10.1],[2014.88,10.5],[2014.96,10.7],[2015.04,11.1],[2015.10,11.3],[2015.17,9.5],[2015.23,9.7],[2015.31,9.9],[2015.39,10.5],[2015.47,9.9],[2015.55,9.5],[2015.63,9.1],[2015.71,8.7],[2015.79,9.1],[2015.87,8.7],[2015.95,8.5],[2016.03,8.1],[2016.11,7.9],[2016.19,8.3],[2016.27,8.7],[2016.33,9.3],[2016.39,8.7],[2016.47,8.5],[2016.55,8.3],[2016.63,8.3],[2016.71,8.1],[2016.79,8.3],[2016.87,8.1],[2016.95,7.7],[2017.03,7.9],[2017.11,8.3],[2017.19,8.5],[2017.27,8.5],[2017.35,8.7],[2017.43,8.5],[2017.51,8.7],[2017.59,8.7],[2017.67,8.5],[2017.75,8.3],[2017.83,8.1],[2017.91,7.5],[2017.99,8.1],[2018.07,8.3],[2018.15,8.1],[2018.23,7.7],[2018.31,6.9],[2018.39,6.3],[2018.47,6.1],[2018.55,5.9],[2018.63,6.1],[2018.71,5.7],[2018.79,6.1],[2018.87,5.9],[2018.95,6.1],[2019.03,5.9],[2019.11,7.1],[2019.17,6.9],[2019.23,6.5],[2019.31,6.3],[2019.39,5.7],[2019.47,6.3],[2019.55,6.3],[2019.63,5.9],[2019.71,6.1],[2019.79,5.9],[2019.87,6.3],[2019.95,6.5],[2020.03,6.5],[2020.11,6.9],[2020.17,6.5],[2020.21,5.5],[2020.26,5.0],[2020.34,6.1],[2020.42,6.1],[2020.50,6.7],[2020.58,6.3],[2020.66,6.3],[2020.74,5.9],[2020.82,6.5],[2020.90,6.7],[2020.98,6.9],[2021.06,7.1],[2021.14,6.5],[2021.22,6.5],[2021.30,5.5],[2021.38,5.5],[2021.46,5.3],[2021.54,5.3],[2021.62,5.1],[2021.70,5.3],[2021.78,4.9],[2021.86,5.1],[2021.94,5.9],[2022.00,6.7],[2022.06,5.5],[2022.14,5.1],[2022.22,4.9],[2022.30,4.7],[2022.38,4.5],[2022.46,4.1],[2022.54,3.5],[2022.62,4.3],[2022.70,4.5],[2022.78,4.5],[2022.86,4.7],[2022.94,5.3],[2023.02,5.1],[2023.10,4.5],[2023.18,4.3],[2023.26,4.7],[2023.34,4.3],[2023.42,3.7],[2023.48,4.5],[2023.54,4.9],[2023.62,5.5],[2023.70,5.9],[2023.78,5.7],[2023.86,5.1],[2023.94,4.7],[2023.97,4.5]];

const seriesData = [china, india, indonesia, korea, taiwan, turkey];
const seriesColors = ["#ff0000","#0000ff","#008000","#ff9900","#990099","#00b0b0"];

// ---------------- DRAW ----------------
const svg = d3.select("#chart");
const L = 52, R = 1347, T = 13, B = 686;
const x = d3.scaleLinear().domain([1995, 2026]).range([L, R]);
const y = d3.scaleLinear().domain([0, 40]).range([B, T]);

svg.append("rect").attr("x", L).attr("y", T).attr("width", R - L).attr("height", B - T)
  .attr("fill", "#fffee2");

const line = d3.line().defined(d => d[1] != null).x(d => x(d[0])).y(d => y(d[1]));
const g = svg.append("g");
for (let i = seriesData.length - 1; i >= 0; i--) {
  g.append("path").datum(seriesData[i]).attr("d", line)
    .attr("fill", "none").attr("stroke", seriesColors[i])
    .attr("stroke-width", 3).attr("stroke-linejoin", "round");
}

// frame
svg.append("rect").attr("x", L).attr("y", T).attr("width", R - L).attr("height", B - T)
  .attr("fill", "none").attr("stroke", "#000").attr("stroke-width", 2.5);
svg.append("line").attr("x1", L - 1).attr("x2", R + 1).attr("y1", B).attr("y2", B)
  .attr("stroke", "#000").attr("stroke-width", 3.5);

const serif = "'Liberation Serif','Times New Roman',serif";
const sans = "'Liberation Sans',Arial,sans-serif";

// y axes
const yl = svg.append("g").attr("transform", `translate(${L},0)`)
  .call(d3.axisLeft(y).tickValues(yTicks).tickSize(14).tickPadding(6));
const yr = svg.append("g").attr("transform", `translate(${R},0)`)
  .call(d3.axisRight(y).tickValues(yTicks).tickSize(14).tickPadding(6));
[yl, yr].forEach(a => {
  a.select(".domain").remove();
  a.selectAll("line").attr("stroke", "#000").attr("stroke-width", 1.5);
  a.selectAll("text").attr("font-family", serif).attr("font-size", 20).attr("fill", "#000");
});

// x axis ticks
const xa = svg.append("g").attr("transform", `translate(0,${B})`)
  .call(d3.axisBottom(x).tickValues(yearTicks).tickSize(15).tickFormat(""));
xa.select(".domain").remove();
xa.selectAll("line").attr("stroke", "#000").attr("stroke-width", 3);
svg.append("g").selectAll("text").data(yearTicks.slice(0, -1)).join("text")
  .attr("x", d => x(d + 0.5)).attr("y", 713).attr("text-anchor", "middle")
  .attr("font-family", serif).attr("font-size", 19).attr("fill", "#000")
  .text(d => String(d % 100).padStart(2, "0"));

// helper: horizontally stretched sans text (reference glyphs are wider)
function stext(px, py, sx, size, bold, color, str, anchor) {
  return svg.append("text").attr("transform", `translate(${px},${py}) scale(${sx},1)`)
    .attr("font-family", sans).attr("font-weight", bold ? "bold" : "normal")
    .attr("font-size", size).attr("fill", color).attr("text-anchor", anchor || "start").text(str);
}

// title
stext(67, 42, 1.16, 23, true, "#000", "FORWARD P/E: EMERGING ECONOMIES MSCI");

// legend
stext(888, 71, 1.17, 22.5, true, "#000", "Forward P/E*");
seriesNames.forEach((name, i) => {
  const cy = 100 + i * 28.7;
  svg.append("line").attr("x1", 887).attr("x2", 931).attr("y1", cy).attr("y2", cy)
    .attr("stroke", seriesColors[i]).attr("stroke-width", 3);
  stext(945, cy + 7.5, 1.16, 20.5, false, "#000", name);
});

// date label
stext(1270, 543, 1.1, 18.5, false, "#ff0000", "12/21");

// source
svg.append("text").attr("x", 1337).attr("y", 676).attr("text-anchor", "end")
  .attr("font-family", serif).attr("font-weight", "bold").attr("font-style", "italic")
  .attr("font-size", 23).attr("fill", "#000").text("yardeni.com");
</script>
</body></html>
